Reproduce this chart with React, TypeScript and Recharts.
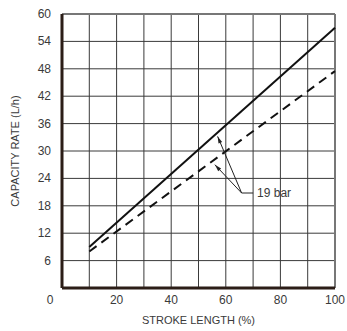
import React from "react";
import {
  LineChart,
  Line,
  XAxis,
  YAxis,
  CartesianGrid,
  ReferenceLine,
  Label,
} from "recharts";

// ---- data ----
const strokeLength = [10, 100];
const solidRate = [9, 57];
const dashedRate = [8, 47.5];

const xTicks = [0, 10, 20, 30, 40, 50, 60, 70, 80, 90, 100];
const yTicks = [0, 6, 12, 18, 24, 30, 36, 42, 48, 54, 60];

const xAxisTitle = "STROKE LENGTH (%)";
const yAxisTitle = "CAPACITY RATE (L/h)";

const calloutText = "19 bar";
const calloutElbow = [65.8, 20.8];
const calloutEnd = [70, 20.8];
const arrowTipSolid = [57, 33.2];
const arrowTipDashed = [56, 27];

const solidData = strokeLength.map((x, i) => ({ x, y: solidRate[i] }));
const dashedData = strokeLength.map((x, i) => ({ x, y: dashedRate[i] }));

const FONT = "'Liberation Sans', Arial, sans-serif";
const TEXT = "#3a3a3a";

const XTick = (props: any) => {
  const { x, y, payload } = props;
  const v = payload.value;
  if (v % 20 !== 0) return <g />;
  return (
    <text
      x={v === 0 ? x - 12 : x}
      y={y}
      dy={8}
      textAnchor="middle"
      fontSize={12}
      fontFamily={FONT}
      fill={TEXT}
    >
      {v}
    </text>
  );
};

const YTick = (props: any) => {
  const { x, y, payload } = props;
  const v = payload.value;
  if (v === 0) return <g />;
  return (
    <text
      x={x - 3}
      y={y}
      dy={4}
      textAnchor="end"
      fontSize={12}
      fontFamily={FONT}
      fill={TEXT}
    >
      {v}
    </text>
  );
};

const arrowShape = (p: any) => {
  const { x1, y1, x2, y2 } = p;
  const dx = x2 - x1;
  const dy = y2 - y1;
  const len = Math.sqrt(dx * dx + dy * dy) || 1;
  const ux = dx / len;
  const uy = dy / len;
  const hl = 7;
  const hw = 2;
  const bx = x2 - ux * hl;
  const by = y2 - uy * hl;
  const pts = `${x2},${y2} ${bx - uy * hw},${by + ux * hw} ${bx + uy * hw},${by - ux * hw}`;
  return (
    <g>
      <line x1={x1} y1={y1} x2={x2} y2={y2} stroke="#222" strokeWidth={1} />
      <polygon points={pts} fill="#222" />
    </g>
  );
};

const calloutShape = (p: any) => {
  const { x1, y1, x2, y2 } = p;
  return (
    <g>
      <line x1={x1} y1={y1} x2={x2} y2={y2} stroke="#222" strokeWidth={1} />
      <text
        x={x2 + 4}
        y={y2}
        dy={4}
        fontSize={12}
        fontFamily={FONT}
        fill={TEXT}
      >
        {calloutText}
      </text>
    </g>
  );
};

export default function App() {
  return (
    <div style={{ position: "absolute", left: 0, top: 0, background: "#fff" }}>
      <LineChart
        width={347}
        height={331}
        margin={{ top: 14, right: 12, left: 0, bottom: 0 }}
      >
        <CartesianGrid stroke="#3a3a3a" strokeWidth={1} />
        <XAxis
          type="number"
          dataKey="x"
          domain={[0, 100]}
          ticks={xTicks}
          interval={0}
          height={43}
          tickLine={false}
          tick={<XTick />}
          axisLine={{ stroke: "#2b1d17", strokeWidth: 3 }}
        >
          <Label
            content={(lp: any) => {
              const vb = lp.viewBox;
              return (
                <text
                  x={vb.x + vb.width / 2}
                  y={vb.y + 36}
                  textAnchor="middle"
                  fontSize={11}
                  fontFamily={FONT}
                  fill={TEXT}
                >
                  {xAxisTitle}
                </text>
              );
            }}
          />
        </XAxis>
        <YAxis
          type="number"
          domain={[0, 60]}
          ticks={yTicks}
          interval={0}
          width={62}
          tickLine={false}
          tick={<YTick />}
          axisLine={{ stroke: "#2b1d17", strokeWidth: 3 }}
        >
          <Label
            content={(lp: any) => {
              const vb = lp.viewBox;
              const cx = vb.x + 15;
              const cy = vb.y + vb.height / 2;
              return (
                <text
                  x={cx}
                  y={cy}
                  transform={`rotate(-90, ${cx}, ${cy})`}
                  textAnchor="middle"
                  dominantBaseline="central"
                  fontSize={11}
                  fontFamily={FONT}
                  fill={TEXT}
                >
                  {yAxisTitle}
                </text>
              );
            }}
          />
        </YAxis>
        <ReferenceLine x={100} stroke="#777" strokeWidth={2} />
        <ReferenceLine y={60} stroke="#777" strokeWidth={2} />
        <Line
          data={solidData}
          dataKey="y"
          stroke="#111"
          strokeWidth={2}
          dot={false}
          isAnimationActive={false}
        />
        <Line
          data={dashedData}
          dataKey="y"
          stroke="#111"
          strokeWidth={2}
          strokeDasharray="9 6"
          dot={false}
          isAnimationActive={false}
        />
        <ReferenceLine
          segment={[
            { x: calloutElbow[0], y: calloutElbow[1] },
            { x: arrowTipSolid[0], y: arrowTipSolid[1] },
          ]}
          shape={arrowShape}
        />
        <ReferenceLine
          segment={[
            { x: calloutElbow[0], y: calloutElbow[1] },
            { x: arrowTipDashed[0], y: arrowTipDashed[1] },
          ]}
          shape={arrowShape}
        />
        <ReferenceLine
          segment={[
            { x: calloutElbow[0], y: calloutElbow[1] },
            { x: calloutEnd[0], y: calloutEnd[1] },
          ]}
          shape={calloutShape}
        />
      </LineChart>
    </div>
  );
}
